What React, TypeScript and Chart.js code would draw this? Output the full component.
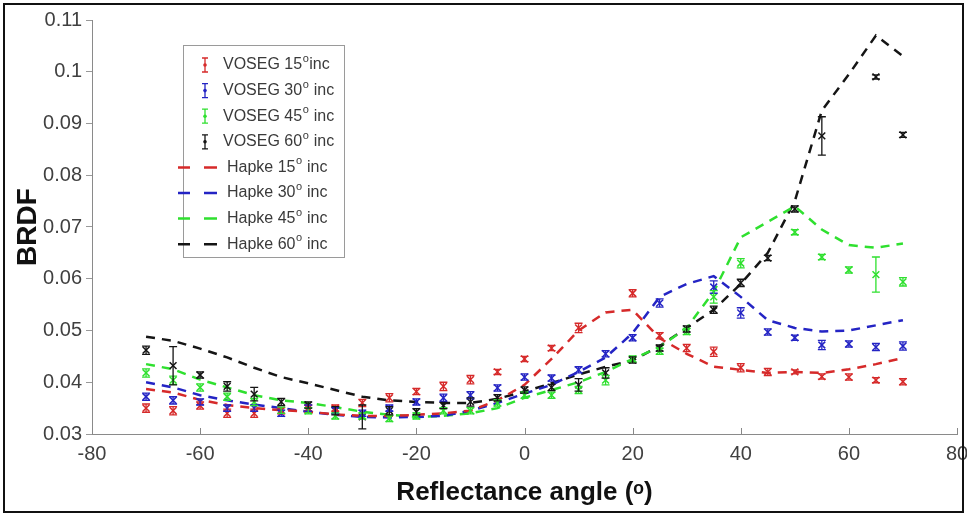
import React, { useEffect, useRef } from 'react';
import { Chart, registerables } from 'chart.js';

Chart.register(...registerables);

// Reflectance angles (degrees)
const angles = [-70, -65, -60, -55, -50, -45, -40, -35, -30, -25, -20, -15, -10, -5, 0, 5, 10, 15, 20, 25, 30, 35, 40, 45, 50, 55, 60, 65, 70];

// Incidence angles of the four series
const incidences = [15, 30, 45, 60];

// VOSEG measurements (BRDF)
const voseg15 = [0.035, 0.0345, 0.0355, 0.034, 0.034, 0.0345, 0.035, 0.035, 0.036, 0.037, 0.0382, 0.0392, 0.0405, 0.042, 0.0445, 0.0466, 0.0505, null, 0.0572, 0.049, 0.0466, 0.0459, 0.0428, 0.042, 0.042, 0.0411, 0.041, 0.0404, 0.0401];
const voseg30 = [0.0372, 0.0365, 0.0362, 0.035, 0.035, 0.034, 0.035, 0.0345, 0.034, 0.035, 0.0362, 0.037, 0.0375, 0.0389, 0.041, 0.0408, 0.0424, 0.0455, 0.0486, 0.0553, null, 0.0584, 0.0534, 0.0497, 0.0486, 0.0472, 0.0474, 0.0468, 0.047];
const voseg45 = [0.0418, 0.0404, 0.039, 0.0372, 0.0362, 0.0346, 0.0345, 0.0335, 0.0335, 0.033, 0.0335, 0.0345, 0.0345, 0.036, 0.0375, 0.0375, 0.0385, 0.0404, 0.0445, 0.046, 0.0498, 0.0565, 0.063, null, 0.069, 0.0642, 0.0617, 0.0608, 0.0594];
const voseg60 = [0.0462, 0.0432, 0.0414, 0.0392, 0.0377, 0.0362, 0.0356, 0.0345, 0.0333, 0.0345, 0.0343, 0.0355, 0.0362, 0.037, 0.0385, 0.039, 0.0395, 0.0418, 0.0443, 0.0466, 0.0503, 0.054, 0.0592, 0.064, 0.0735, 0.0876, null, 0.099, 0.0878];

// VOSEG error bar half-widths
const err15 = [0.0008, 0.0008, 0.0007, 0.0008, 0.0008, 0.0006, 0.0006, 0.0006, 0.0007, 0.0008, 0.0006, 0.0008, 0.0008, 0.0005, 0.0005, 0.0005, 0.0009, null, 0.0007, 0.0006, 0.0007, 0.0009, 0.0008, 0.0007, 0.0004, 0.0005, 0.0006, 0.0005, 0.0006];
const err30 = [0.0007, 0.0007, 0.0006, 0.0006, 0.0006, 0.0006, 0.0006, 0.0006, 0.0006, 0.0006, 0.0006, 0.0007, 0.0007, 0.0006, 0.0006, 0.0006, 0.0006, 0.0006, 0.0006, 0.0008, null, 0.0012, 0.001, 0.0006, 0.0005, 0.0009, 0.0006, 0.0007, 0.0008];
const err45 = [0.0008, 0.0008, 0.0007, 0.0007, 0.0007, 0.0006, 0.0006, 0.0006, 0.0006, 0.0006, 0.0006, 0.0006, 0.0006, 0.0006, 0.0006, 0.0006, 0.0007, 0.0009, 0.0006, 0.0006, 0.0006, 0.0012, 0.0009, null, 0.0005, 0.0005, 0.0006, 0.0034, 0.0008];
const err60 = [0.0008, 0.0037, 0.0006, 0.0009, 0.0013, 0.0007, 0.0006, 0.0008, 0.0023, 0.0008, 0.0006, 0.0006, 0.0008, 0.0006, 0.0006, 0.0006, 0.0012, 0.001, 0.0006, 0.0006, 0.0006, 0.0007, 0.0007, 0.0005, 0.0006, 0.0037, null, 0.0004, 0.0005];

// Hapke model (BRDF)
const hapke15 = [0.0387, 0.038, 0.0366, 0.0356, 0.035, 0.0346, 0.0343, 0.0338, 0.0335, 0.0335, 0.0337, 0.034, 0.0345, 0.0365, 0.0395, 0.0445, 0.05, 0.0535, 0.054, 0.0485, 0.0455, 0.043, 0.0424, 0.0418, 0.042, 0.0418, 0.0425, 0.0435, 0.0447];
const hapke30 = [0.04, 0.039, 0.0375, 0.0365, 0.0357, 0.035, 0.0343, 0.0337, 0.0333, 0.0332, 0.0333, 0.0335, 0.0345, 0.036, 0.0378, 0.0395, 0.042, 0.0448, 0.0495, 0.0565, 0.059, 0.0605, 0.0565, 0.052, 0.0505, 0.0498, 0.05, 0.051, 0.052];
const hapke45 = [0.0435, 0.0425, 0.0405, 0.039, 0.0375, 0.0365, 0.036, 0.0352, 0.0343, 0.0337, 0.0333, 0.0335, 0.034, 0.035, 0.037, 0.0385, 0.04, 0.042, 0.0445, 0.0468, 0.0505, 0.0575, 0.068, 0.071, 0.074, 0.0695, 0.0665, 0.066, 0.0668];
const hapke60 = [0.0488, 0.048, 0.0465, 0.0448, 0.0428, 0.041, 0.0398, 0.0385, 0.0372, 0.0365, 0.0362, 0.036, 0.036, 0.0368, 0.0382, 0.0398, 0.0415, 0.043, 0.0442, 0.047, 0.0505, 0.054, 0.059, 0.065, 0.075, 0.0925, 0.0995, 0.107, 0.103];

// Axis ticks
const xTicks = [-80, -60, -40, -20, 0, 20, 40, 60, 80];
const yTicks = [0.03, 0.04, 0.05, 0.06, 0.07, 0.08, 0.09, 0.1, 0.11];

const colors = ['#d62a2a', '#2424c4', '#2fe02f', '#151515'];
const vosegValues = [voseg15, voseg30, voseg45, voseg60];
const vosegErr = [err15, err30, err45, err60];
const hapkeValues = [hapke15, hapke30, hapke45, hapke60];

const FONT = "'Liberation Sans', Arial, Helvetica, sans-serif";

const toPoints = (vals: (number | null)[]) =>
  angles.map((a, i) => ({ x: a, y: vals[i] }));

const errorBarPlugin = {
  id: 'errorBars',
  afterDatasetsDraw(chart: any) {
    const { ctx } = chart;
    const xs = chart.scales.x;
    const ys = chart.scales.y;
    ctx.save();
    vosegValues.forEach((vals, si) => {
      ctx.strokeStyle = colors[si];
      ctx.lineWidth = 1.3;
      vals.forEach((v, i) => {
        const e = vosegErr[si][i];
        if (v == null || e == null) return;
        const px = xs.getPixelForValue(angles[i]);
        const y1 = ys.getPixelForValue(v - e);
        const y2 = ys.getPixelForValue(v + e);
        ctx.beginPath();
        ctx.moveTo(px, y1);
        ctx.lineTo(px, y2);
        ctx.moveTo(px - 4, y1);
        ctx.lineTo(px + 4, y1);
        ctx.moveTo(px - 4, y2);
        ctx.lineTo(px + 4, y2);
        ctx.stroke();
      });
    });
    ctx.restore();
  },
};

const decorPlugin = {
  id: 'decor',
  afterDraw(chart: any) {
    const { ctx } = chart;
    const xs = chart.scales.x;
    ctx.save();
    // inward x ticks
    ctx.strokeStyle = '#888';
    ctx.lineWidth = 1;
    const bottom = chart.chartArea.bottom;
    xs.ticks.forEach((t: any) => {
      const px = Math.round(xs.getPixelForValue(t.value)) + 0.5;
      ctx.beginPath();
      ctx.moveTo(px, bottom);
      ctx.lineTo(px, bottom - 6);
      ctx.stroke();
    });

    // legend
    const bx = 183.5, by = 45.5, bw = 161, bh = 212;
    ctx.fillStyle = '#ffffff';
    ctx.fillRect(bx, by, bw, bh);
    ctx.strokeStyle = '#9a9a9a';
    ctx.lineWidth = 1;
    ctx.strokeRect(bx, by, bw, bh);
    const rowY = (i: number) => 65 + i * 25.6;
    ctx.textBaseline = 'middle';
    const drawLabel = (x: number, y: number, pre: string, post: string) => {
      ctx.fillStyle = '#3a3a3a';
      ctx.font = `16px ${FONT}`;
      ctx.fillText(pre, x, y);
      let w = ctx.measureText(pre).width;
      ctx.font = `11px ${FONT}`;
      ctx.fillText('o', x + w + 0.5, y - 6);
      w += ctx.measureText('o').width + 1;
      ctx.font = `16px ${FONT}`;
      ctx.fillText(post, x + w, y);
    };
    incidences.forEach((inc, i) => {
      const y = rowY(i);
      ctx.strokeStyle = colors[i];
      ctx.lineWidth = 1.3;
      ctx.beginPath();
      ctx.moveTo(205, y - 7);
      ctx.lineTo(205, y + 7);
      ctx.moveTo(202, y - 7);
      ctx.lineTo(208, y - 7);
      ctx.moveTo(202, y + 7);
      ctx.lineTo(208, y + 7);
      ctx.stroke();
      ctx.fillStyle = colors[i];
      ctx.beginPath();
      ctx.arc(205, y, 1.8, 0, Math.PI * 2);
      ctx.fill();
      drawLabel(223, y, `VOSEG ${inc}`, i === 0 ? 'inc' : ' inc');
    });
    incidences.forEach((inc, i) => {
      const y = rowY(i + 4);
      ctx.strokeStyle = colors[i];
      ctx.lineWidth = 2.5;
      ctx.beginPath();
      ctx.moveTo(178, y);
      ctx.lineTo(190, y);
      ctx.moveTo(204, y);
      ctx.lineTo(217, y);
      ctx.stroke();
      drawLabel(227, y, `Hapke ${inc}`, ' inc');
    });

    // outer frame
    ctx.strokeStyle = '#111';
    ctx.lineWidth = 2;
    ctx.strokeRect(4, 4, 959, 508);
    ctx.restore();
  },
};

export default function App() {
  const canvasRef = useRef<HTMLCanvasElement | null>(null);

  useEffect(() => {
    const canvas = canvasRef.current;
    if (!canvas) return;
    const datasets: any[] = [];
    hapkeValues.forEach((vals, i) => {
      datasets.push({
        label: `Hapke ${incidences[i]} inc`,
        data: toPoints(vals),
        showLine: true,
        borderColor: colors[i],
        backgroundColor: colors[i],
        borderWidth: 2.5,
        borderDash: [9, 7],
        pointRadius: 0,
        tension: 0,
        order: 2,
      });
    });
    vosegValues.forEach((vals, i) => {
      datasets.push({
        label: `VOSEG ${incidences[i]} inc`,
        data: toPoints(vals),
        showLine: false,
        borderColor: colors[i],
        backgroundColor: colors[i],
        pointStyle: 'crossRot',
        pointRadius: 4.8,
        pointBorderWidth: 1.5,
        order: 1,
      });
    });

    const chart = new Chart(canvas, {
      type: 'line',
      data: { datasets },
      plugins: [errorBarPlugin, decorPlugin],
      options: {
        responsive: false,
        animation: false,
        devicePixelRatio: 1,
        layout: { padding: { left: 11, top: 20, right: 10, bottom: 8 } },
        plugins: {
          legend: { display: false },
          tooltip: { enabled: false },
        },
        scales: {
          x: {
            type: 'linear',
            min: -80,
            max: 80,
            afterBuildTicks: (scale: any) => {
              scale.ticks = xTicks.map((v) => ({ value: v }));
            },
            afterFit: (scale: any) => {
              scale.height = 74;
              scale.paddingLeft = 0;
              scale.paddingRight = 0;
            },
            grid: { display: true, drawOnChartArea: false, drawTicks: false, color: '#888' },
            border: { display: true, color: '#8a8a8a', width: 1 },
            ticks: {
              color: '#404040',
              padding: 8,
              font: { family: FONT, size: 20 },
              maxRotation: 0,
              callback: (v: any) => String(v),
            },
            title: {
              display: true,
              text: 'Reflectance angle (ᵒ)',
              color: '#111',
              font: { family: FONT, size: 26, weight: 'bold' },
              padding: 0,
            },
          },
          y: {
            type: 'linear',
            min: 0.03,
            max: 0.11,
            afterBuildTicks: (scale: any) => {
              scale.ticks = yTicks.map((v) => ({ value: v }));
            },
            afterFit: (scale: any) => {
              scale.width = 81;
              scale.paddingTop = 0;
              scale.paddingBottom = 0;
            },
            grid: { display: true, drawOnChartArea: false, drawTicks: true, tickLength: 6, color: '#999' },
            border: { display: true, color: '#8a8a8a', width: 1 },
            ticks: {
              color: '#404040',
              padding: 4,
              font: { family: FONT, size: 20 },
              callback: (v: any) => String(Number(Number(v).toFixed(2))),
            },
            title: {
              display: true,
              text: 'BRDF',
              color: '#111',
              font: { family: FONT, size: 28, weight: 'bold' },
              padding: 0,
            },
          },
        },
      } as any,
    });
    return () => chart.destroy();
  }, []);

  return (
    <div style={{ position: 'fixed', left: 0, top: 0, width: 967, height: 516, background: '#fff' }}>
      <canvas ref={canvasRef} width={967} height={516} style={{ display: 'block', width: 967, height: 516 }} />
    </div>
  );
}
